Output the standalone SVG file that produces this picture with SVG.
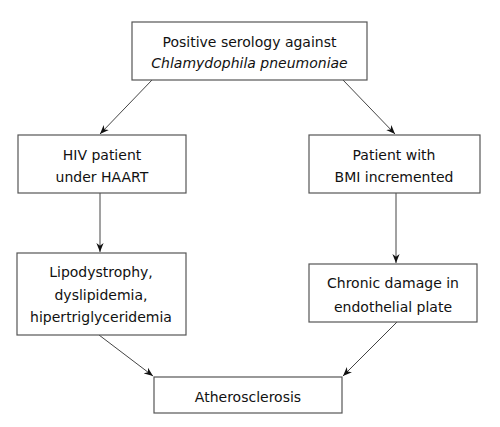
<svg xmlns="http://www.w3.org/2000/svg" width="500" height="427" viewBox="0 0 500 427">
<style>
.box{fill:#fff;stroke:#555;stroke-width:1.2}
.t{font-family:"DejaVu Sans",sans-serif;font-size:14px;fill:#111;text-anchor:middle}
.c{stroke:#444;stroke-width:1;fill:none;marker-end:url(#ah)}
</style>
<defs>
<marker id="ah" viewBox="0 0 10 10" refX="10" refY="5" markerWidth="9" markerHeight="9" orient="auto" markerUnits="userSpaceOnUse">
<path d="M0,1 L10,5 L0,9 L3,5 Z" fill="#111"/>
</marker>
</defs>
<rect width="500" height="427" fill="#fff"/>
<g id="connectors">
<line class="c" x1="152" y1="80" x2="100" y2="134"/>
<line class="c" x1="343" y1="80" x2="395" y2="134"/>
<line class="c" x1="100" y1="193" x2="100" y2="252"/>
<line class="c" x1="396" y1="193" x2="396" y2="263"/>
<line class="c" x1="99" y1="335" x2="153" y2="376"/>
<line class="c" x1="397" y1="322" x2="343" y2="376"/>
</g>
<g id="n1">
<rect class="box" x="132" y="22" width="235" height="58"/>
<text class="t" x="249.5" y="47">Positive serology against</text>
<text class="t" x="249.5" y="68" font-style="italic">Chlamydophila pneumoniae</text>
</g>
<g id="n2">
<rect class="box" x="18" y="135" width="168" height="58"/>
<text class="t" x="102" y="160">HIV patient</text>
<text class="t" x="102" y="182">under HAART</text>
</g>
<g id="n3">
<rect class="box" x="309" y="135" width="171" height="58"/>
<text class="t" x="394" y="160">Patient with</text>
<text class="t" x="394" y="182">BMI incremented</text>
</g>
<g id="n4">
<rect class="box" x="17" y="253" width="169" height="82"/>
<text class="t" x="101" y="277">Lipodystrophy,</text>
<text class="t" x="101" y="300">dyslipidemia,</text>
<text class="t" x="101" y="322">hipertriglyceridemia</text>
</g>
<g id="n5">
<rect class="box" x="309" y="264" width="168" height="58"/>
<text class="t" x="393" y="288">Chronic damage in</text>
<text class="t" x="393" y="312">endothelial plate</text>
</g>
<g id="n6">
<rect class="box" x="154" y="377" width="188" height="36"/>
<text class="t" x="248" y="402">Atherosclerosis</text>
</g>
</svg>
